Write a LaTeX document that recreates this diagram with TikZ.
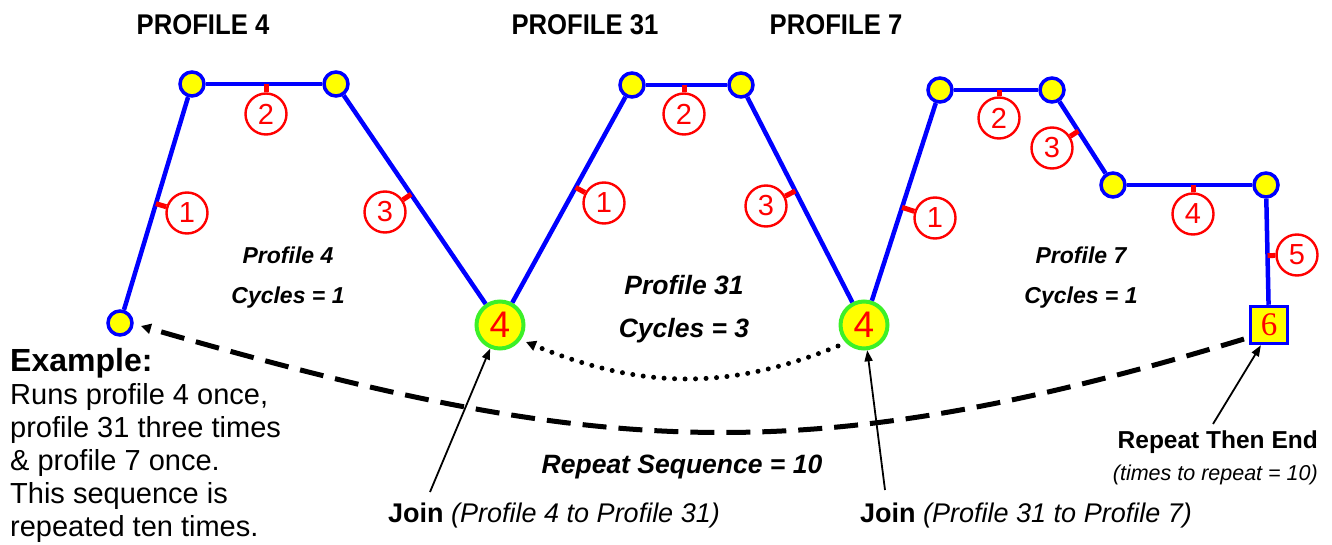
\documentclass[tikz,border=0pt]{standalone}
\usepackage{graphicx}
\usepackage{fontspec}
\setmainfont{Liberation Sans}
\newfontfamily\sixfont{Liberation Serif}
\usetikzlibrary{arrows.meta,calc}
\definecolor{pblue}{RGB}{0,0,255}
\definecolor{pyellow}{RGB}{255,255,0}
\definecolor{pred}{RGB}{255,0,0}
\definecolor{pgreen}{RGB}{60,240,40}
\newcommand{\narrowtxt}[1]{\scalebox{0.9}[1]{#1}}
\begin{document}
\begin{tikzpicture}[x=1pt,y=-1pt,
  vtx/.style={circle,draw=pblue,fill=pyellow,line width=3.5pt,minimum size=24pt,inner sep=0pt},
  joinpt/.style={circle,draw=pgreen,fill=pyellow,line width=4pt,minimum size=47pt,inner sep=0pt,text=pred,font=\fontsize{37}{37}\selectfont},
  endpt/.style={rectangle,draw=pblue,fill=pyellow,line width=3.5pt,minimum size=37pt,inner sep=0pt,text=pred,font=\fontsize{33}{33}\selectfont},
  seg/.style={pblue,line width=4.5pt},
  num/.style={circle,draw=pred,line width=2.4pt,minimum size=41pt,inner sep=0pt,text=pred,font=\fontsize{29}{29}\selectfont},
  tickm/.style={pred,line width=5pt},
  title/.style={font=\bfseries\fontsize{28.5}{28.5}\selectfont},
  plabel/.style={font=\bfseries\itshape\fontsize{23}{23}\selectfont},
  biglabel/.style={font=\bfseries\itshape\fontsize{26.5}{26.5}\selectfont},
  note/.style={font=\fontsize{27}{27}\selectfont},
  ptr/.style={black,line width=1.8pt,-{Triangle[length=11pt,width=8pt]}},
  dashline/.style={black,line width=5pt,dash pattern=on 24pt off 12pt,-{Triangle[length=10pt,width=10pt]}},
  dotline/.style={black,line width=5pt,line cap=round,dash pattern=on 0pt off 10.5pt,-{Triangle[length=10pt,width=10pt]}}
]
\useasboundingbox (0,0) rectangle (1332,545);

% titles
\node[title] (t4) at (203,25) {\narrowtxt{PROFILE 4}};
\node[title] (t31) at (585,25) {\narrowtxt{PROFILE 31}};
\node[title] (t7) at (836,25) {\narrowtxt{PROFILE 7}};

% vertices
\node[vtx] (A0) at (120,323) {};
\node[vtx] (A1) at (192,84) {};
\node[vtx] (A2) at (336,84) {};
\node[joinpt] (J1) at (500,325) {4};
\node[vtx] (B1) at (632,85) {};
\node[vtx] (B2) at (741,85) {};
\node[joinpt] (J2) at (864,325) {4};
\node[vtx] (C1) at (940,90) {};
\node[vtx] (C2) at (1052,90) {};
\node[vtx] (C3) at (1113,185) {};
\node[vtx] (C4) at (1266,185) {};
\node[endpt] (E) at (1269,325) {\sixfont 6};

% segments
\draw[seg] (A0) -- (A1);
\draw[seg] (A1) -- (A2);
\draw[seg] (A2) -- (J1);
\draw[seg] (J1) -- (B1);
\draw[seg] (B1) -- (B2);
\draw[seg] (B2) -- (J2);
\draw[seg] (J2) -- (C1);
\draw[seg] (C1) -- (C2);
\draw[seg] (C2) -- (C3);
\draw[seg] (C3) -- (C4);
\draw[seg] (C4) -- (E);

% step numbers, profile 4
\node[num] (a1) at (187,213) {1};
\node[num] (a2) at (266,114) {2};
\node[num] (a3) at (385,212) {3};
\draw[tickm] ($(A0)!(a1)!(A1)$) -- (a1);
\draw[tickm] ($(A1)!(a2)!(A2)$) -- (a2);
\draw[tickm] ($(A2)!(a3)!(J1)$) -- (a3);
% profile 31
\node[num] (b1) at (604,203) {1};
\node[num] (b2) at (684,114) {2};
\node[num] (b3) at (766,206) {3};
\draw[tickm] ($(J1)!(b1)!(B1)$) -- (b1);
\draw[tickm] ($(B1)!(b2)!(B2)$) -- (b2);
\draw[tickm] ($(B2)!(b3)!(J2)$) -- (b3);
% profile 7
\node[num] (c1) at (935,218) {1};
\node[num] (c2) at (999,118) {2};
\node[num] (c3) at (1052,148) {3};
\node[num] (c4) at (1193,214) {4};
\node[num] (c5) at (1297,255) {5};
\draw[tickm] ($(J2)!(c1)!(C1)$) -- (c1);
\draw[tickm] ($(C1)!(c2)!(C2)$) -- (c2);
\draw[tickm] ($(C2)!(c3)!(C3)$) -- (c3);
\draw[tickm] ($(C3)!(c4)!(C4)$) -- (c4);
\draw[tickm] ($(C4)!(c5)!(E)$) -- (c5);

% profile labels
\node[plabel] (l4a) at (288,255) {Profile 4};
\node[plabel] (l4b) at (288,298) {Cycles = 1};
\node[biglabel] (l31a) at (684,285) {Profile 31};
\node[biglabel] (l31b) at (684,331) {Cycles = 3};
\node[plabel] (l7a) at (1081,255) {Profile 7};
\node[plabel] (l7b) at (1081,298) {Cycles = 1};

% repeat loops
\coordinate (dS) at (1244,339);
\coordinate (dE) at (141,326);
\draw[dashline] (dS) .. controls (800,474) and (590,456) .. (dE);
\coordinate (oS) at (838,346);
\coordinate (oE) at (526,342);
\draw[dotline] (oS) .. controls (726,392) and (638,388) .. (oE);

\node[biglabel] (rs) at (682,467) {Repeat Sequence = 10};

% example text
\node[anchor=north west,align=left,inner sep=0pt,font=\fontsize{29}{33}\selectfont] (ex) at (10,348)
  {{\fontsize{32}{33}\selectfont\bfseries Example:}\\Runs profile 4 once,\\profile 31 three times\\\& profile 7 once.\\This sequence is\\repeated ten times.};

% join labels
\node[note,anchor=base west,inner sep=0pt] (j1l) at (388,522) {\textbf{Join} \textit{(Profile 4 to Profile 31)}};
\node[note,anchor=base west,inner sep=0pt] (j2l) at (860,522) {\textbf{Join} \textit{(Profile 31 to Profile 7)}};
\node[anchor=base east,inner sep=0pt,font=\bfseries\fontsize{24.5}{24.5}\selectfont] (rte) at (1318,448) {Repeat Then End};
\node[anchor=base east,inner sep=0pt,font=\itshape\fontsize{21.5}{21.5}\selectfont] (rtt) at (1318,480) {(times to repeat = 10)};

\coordinate (p1) at (430,492);
\coordinate (p2) at (885,490);
\coordinate (p3) at (1213,424);
\coordinate (Etip) at ($(E.south west)!0.3!(E.south east)$);
\draw[ptr] (p1) -- (J1);
\draw[ptr] (p2) -- (J2);
\draw[ptr] (p3) -- (Etip);
\end{tikzpicture}
\end{document}
